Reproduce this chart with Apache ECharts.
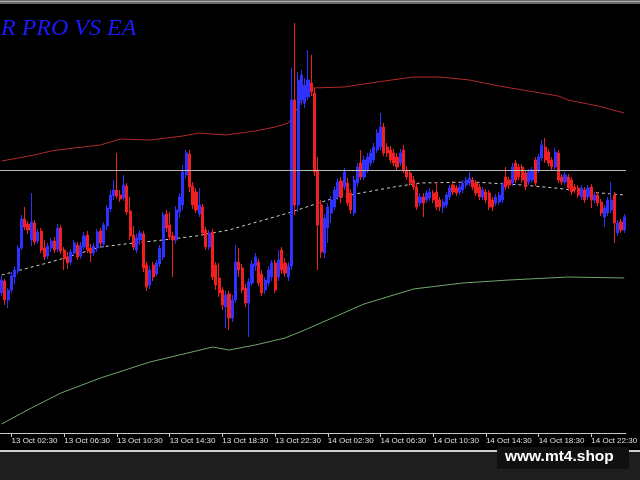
<!DOCTYPE html>
<html>
<head>
<meta charset="utf-8">
<script src="https://cdn.jsdelivr.net/npm/echarts@6/dist/echarts.min.js"></script>
<style>
html,body{margin:0;padding:0;background:#000;}
#c{width:640px;height:480px;}
</style>
</head>
<body>
<div id="c"></div>
<script>
// ---- data (15-minute candles, 13 Oct 01:45 onward) ----
const startLabelDay = 13;
const startMinute = 105;      // 01:45
const stepMinutes = 15;

const opens = [1707,1719,1700,1710,1723,1729,1752,1781,1776,1760,1777,1759,1769,1752,1744,1752,1759,1751,1772,1750,
1743,1738,1747,1755,1744,1753,1765,1752,1747,1752,1769,1756,1774,1791,1804,1810,1805,1802,1814,1789,
1765,1750,1760,1766,1735,1715,1735,1726,1736,1743,1786,1775,1764,1760,1788,1795,1825,1846,1814,1808,
1786,1793,1770,1753,1768,1735,1722,1710,1693,1706,1682,1700,1738,1732,1712,1697,1717,1734,1738,1726,
1710,1717,1723,1737,1723,1750,1737,1723,1734,1900,1795,1900,1897,1903,1917,1907,1830,1795,1747,1772,
1787,1793,1803,1819,1813,1817,1807,1787,1817,1837,1823,1830,1837,1840,1850,1853,1873,1853,1850,1847,
1843,1837,1850,1830,1827,1820,1813,1797,1803,1800,1802,1807,1808,1800,1793,1795,1803,1815,1812,1808,
1810,1815,1817,1820,1817,1813,1803,1808,1807,1800,1797,1798,1800,1823,1820,1817,1837,1833,1833,1827,
1818,1820,1840,1830,1842,1853,1848,1840,1833,1847,1823,1818,1823,1820,1813,1812,1803,1810,1803,1813,
1800,1805,1798,1783,1787,1790,1805,1767,1778,1770];
const closes = [1720,1700,1710,1724,1730,1752,1781,1773,1770,1778,1758,1768,1750,1743,1754,1759,1750,1772,1749,1741,
1737,1748,1757,1743,1754,1764,1750,1747,1754,1768,1757,1775,1792,1805,1810,1804,1801,1815,1788,1764,
1753,1762,1767,1732,1713,1730,1723,1737,1752,1785,1772,1763,1760,1790,1803,1828,1847,1813,1795,1790,
1795,1767,1753,1767,1723,1715,1707,1695,1705,1682,1700,1738,1730,1710,1697,1718,1736,1743,1717,1707,
1720,1730,1737,1710,1740,1730,1727,1734,1900,1795,1920,1925,1915,1920,1908,1828,1775,1748,1782,1793,
1800,1810,1818,1803,1828,1797,1790,1820,1833,1823,1840,1843,1847,1853,1867,1873,1847,1847,1840,1837,
1833,1847,1830,1823,1817,1813,1793,1803,1797,1807,1808,1800,1793,1793,1798,1805,1812,1808,1807,1813,
1817,1820,1822,1813,1807,1803,1810,1800,1793,1793,1803,1805,1815,1813,1815,1833,1820,1823,1820,1813,
1828,1830,1817,1843,1855,1840,1837,1833,1848,1820,1818,1825,1812,1808,1810,1805,1812,1800,1812,1800,
1805,1797,1787,1792,1800,1800,1777,1777,1770,1783];
const lows = [1704,1695,1692,1707,1716,1726,1750,1770,1766,1754,1755,1756,1747,1740,1741,1748,1747,1748,1746,1730,
1731,1735,1744,1740,1741,1750,1747,1738,1744,1748,1753,1752,1770,1788,1800,1801,1798,1799,1785,1760,
1750,1747,1755,1728,1709,1711,1719,1724,1733,1740,1768,1760,1723,1756,1782,1790,1822,1808,1791,1787,
1783,1764,1750,1750,1720,1710,1703,1690,1672,1670,1678,1697,1723,1707,1693,1663,1714,1729,1714,1704,
1706,1714,1719,1707,1719,1726,1723,1719,1730,1785,1788,1895,1892,1900,1904,1824,1730,1742,1742,1757,
1777,1790,1800,1797,1810,1794,1786,1784,1814,1820,1820,1827,1834,1837,1847,1850,1844,1843,1837,1834,
1830,1834,1827,1820,1814,1810,1790,1794,1783,1797,1799,1797,1790,1789,1787,1792,1800,1805,1804,1805,
1807,1812,1814,1810,1804,1800,1800,1797,1790,1789,1794,1795,1797,1810,1811,1814,1817,1820,1817,1810,
1815,1817,1814,1827,1839,1837,1834,1830,1830,1817,1815,1815,1809,1805,1807,1802,1800,1797,1800,1792,
1797,1794,1784,1773,1784,1787,1757,1764,1767,1767];
const highs = [1724,1721,1712,1728,1734,1755,1785,1793,1779,1807,1780,1771,1772,1760,1757,1762,1763,1776,1775,1753,
1748,1751,1760,1758,1758,1768,1769,1756,1757,1771,1772,1778,1795,1810,1820,1847,1810,1825,1817,1803,
1774,1766,1770,1769,1738,1734,1738,1740,1755,1788,1790,1788,1768,1794,1807,1835,1850,1850,1818,1812,
1812,1796,1773,1770,1771,1738,1737,1713,1709,1709,1705,1755,1752,1736,1716,1722,1740,1747,1741,1730,
1723,1734,1740,1740,1750,1753,1742,1738,1932,1977,1928,1930,1922,1950,1945,1912,1843,1800,1786,1797,
1804,1814,1822,1823,1832,1822,1811,1824,1837,1850,1844,1847,1851,1857,1871,1887,1877,1857,1854,1851,
1847,1851,1855,1834,1830,1824,1817,1807,1807,1810,1812,1810,1818,1803,1801,1808,1815,1819,1815,1816,
1820,1823,1828,1823,1820,1816,1813,1811,1810,1803,1806,1808,1818,1833,1823,1837,1840,1836,1836,1830,
1831,1833,1843,1846,1860,1862,1851,1843,1852,1850,1826,1828,1826,1823,1816,1815,1815,1813,1815,1816,
1808,1808,1801,1795,1803,1818,1808,1780,1781,1786];

// indicator lines read at sample candles: [candleIndex, value]
const upperBand = [[0,1839],[5,1842],[10,1845],[15,1849],[22,1852],[30,1855],[36,1861],[45,1860],[55,1864],[60,1867],
[68,1865],[77,1869],[83,1873],[87,1877],[89,1887],[91,1900],[93,1910],[94,1912],[104,1913],[114,1918],[125,1923],
[133,1923],[142,1920],[151,1914],[160,1909],[169,1904],[172,1900],[181,1894],[189,1887]];
const middleBand = [[0,1725],[15,1738],[30,1753],[40,1757],[49,1760],[59,1764],[69,1770],[87,1787],[99,1800],
[109,1807],[119,1813],[127,1817],[143,1818],[158,1815],[168,1812],[178,1808],[189,1805]];
const lowerBand = [[0,1576],[9,1592],[18,1607],[30,1622],[45,1638],[59,1649],[64,1653],[69,1650],[77,1655],[86,1662],
[92,1670],[101,1683],[110,1696],[115,1701],[125,1711],[140,1717],[154,1720],[172,1723],[189,1722]];
const bidPrice = 1830;
const titleText = 'R PRO VS EA';
const watermark = 'www.mt4.shop';

// ---- build ----
const months = 'Oct';
const pad = n => (n < 10 ? '0' : '') + n;
const categories = opens.map((_, k) => {
  const t = startMinute + k * stepMinutes;
  const day = startLabelDay + Math.floor(t / 1440);
  const m = t % 1440;
  return day + ' ' + months + ' ' + pad(Math.floor(m / 60)) + ':' + pad(m % 60);
});
const candles = opens.map((o, k) => [o, closes[k], lows[k], highs[k]]);
const isLabel = (i) => { const t = startMinute + i * stepMinutes; return (t % 240) === 150; };

const chart = echarts.init(document.getElementById('c'), null, {renderer: 'canvas'});
chart.setOption({
  backgroundColor: '#000000',
  animation: false,
  grid: {left: -2, right: 0, top: 5, bottom: 47, containLabel: false},
  xAxis: {
    type: 'category',
    data: categories,
    boundaryGap: true,
    axisLine: {show: true, lineStyle: {color: '#c8c8c8', width: 1}},
    axisTick: {show: true, alignWithLabel: true, length: 4, interval: (i) => isLabel(i), lineStyle: {color: '#c8c8c8'}},
    axisLabel: {
      show: true, interval: (i) => isLabel(i), align: 'left', margin: 4,
      color: '#e0e0e0', fontSize: 8, fontFamily: 'Liberation Sans'
    },
    splitLine: {show: false}
  },
  yAxis: {
    type: 'value', min: 1567, max: 1995,
    axisLine: {show: false}, axisTick: {show: false}, axisLabel: {show: false}, splitLine: {show: false}
  },
  series: [
    {
      type: 'candlestick',
      data: candles,
      barWidth: 2.6,
      itemStyle: {color: '#3030ff', color0: '#f02020', borderColor: '#3030ff', borderColor0: '#f02020', borderWidth: 1},
      markLine: {
        silent: true, symbol: 'none', animation: false,
        label: {show: false},
        lineStyle: {color: '#b8b8b8', width: 1, type: 'solid'},
        data: [{yAxis: bidPrice}]
      },
      z: 3
    },
    {type: 'line', data: upperBand, symbol: 'none', lineStyle: {color: '#b02a2a', width: 1}, z: 2},
    {type: 'line', data: middleBand, symbol: 'none', lineStyle: {color: '#d0d0d0', width: 1, type: [3, 3]}, z: 2},
    {type: 'line', data: lowerBand, symbol: 'none', lineStyle: {color: '#6fa86a', width: 1}, z: 2}
  ],
  graphic: [
    {type: 'rect', left: 0, top: 0, shape: {width: 640, height: 4}, style: {fill: '#6a6a6a'}, z: 10},
    {type: 'rect', left: 0, top: 1, shape: {width: 640, height: 1}, style: {fill: '#a8a8a8'}, z: 11},
    {type: 'rect', left: 0, top: 452, shape: {width: 640, height: 28}, style: {fill: '#1e1e1e'}, z: 10},
    {type: 'rect', left: 0, top: 450, shape: {width: 640, height: 2}, style: {fill: '#d0d0d0'}, z: 11},
    {type: 'rect', left: 497, top: 447, shape: {width: 132, height: 22, r: 2}, style: {fill: '#101010'}, z: 12},
    {type: 'text', left: 505, top: 449, style: {text: watermark, fill: '#ffffff', font: 'bold 15.5px "Liberation Sans"'}, z: 13},
    {type: 'text', left: 1, top: 17, style: {text: titleText, fill: '#1a1aff', font: 'italic 24px "Liberation Serif"'}, z: 13}
  ]
});
</script>
</body>
</html>
